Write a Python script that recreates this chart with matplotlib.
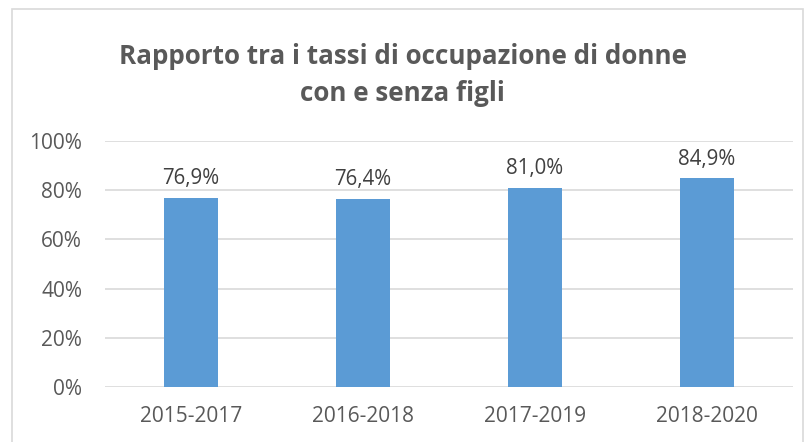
import matplotlib.pyplot as plt
from matplotlib.patches import Rectangle
import numpy as np

periods = ["2015-2017", "2016-2018", "2017-2019", "2018-2020"]
ratios = [76.9, 76.4, 81.0, 84.9]
yticks = [0, 20, 40, 60, 80, 100]

plt.rcParams["font.family"] = ["Open Sans", "DejaVu Sans"]

fig = plt.figure(figsize=(8.05, 4.42), dpi=100)
ax = fig.add_axes([105 / 805, 1 - 387 / 442, 688 / 805, 246 / 442])

x = np.arange(len(periods))
ax.bar(x, ratios, width=0.315, color="#5B9BD5", zorder=3)

for xi, v in zip(x, ratios):
    ax.text(xi, v + 3.5, ("%.1f%%" % v).replace(".", ","), ha="center", va="bottom",
            fontsize=14.8, color="#404040")

ax.set_xlim(-0.5, len(periods) - 0.5)
ax.set_ylim(0, 100)
ax.set_yticks(yticks)
ax.set_yticklabels(["%d%%" % t for t in yticks])
ax.set_xticks(x)
ax.set_xticklabels(periods)
ax.tick_params(axis="both", length=0, labelsize=15, colors="#595959")
ax.tick_params(axis="y", pad=16.5)
ax.tick_params(axis="x", pad=14)
ax.grid(axis="y", color="#D9D9D9", linewidth=1.2, zorder=0)
for s in ax.spines.values():
    s.set_visible(False)

fig.text(0.5, 1 - 75 / 442, "Rapporto tra i tassi di occupazione di donne\ncon e senza figli",
         ha="center", va="center", fontsize=18.7, fontweight="bold", color="#595959",
         linespacing=1.5)

fig.patches.append(Rectangle((12 / 805, -0.01), 791 / 805, 1 - 9 / 442 + 0.01,
                             transform=fig.transFigure, fill=False,
                             edgecolor="#D9D9D9", linewidth=1.2))

fig.savefig("out.png", dpi=100)
